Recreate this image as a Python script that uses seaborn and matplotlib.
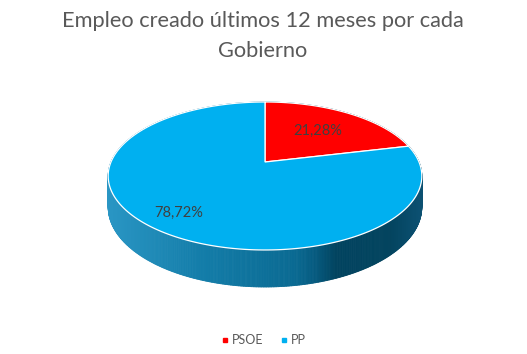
import numpy as np
import matplotlib
matplotlib.use("Agg")
import matplotlib.pyplot as plt
from matplotlib.collections import PolyCollection
from matplotlib.colors import LinearSegmentedColormap
from matplotlib.lines import Line2D
import seaborn as sns

# ---- data ----
categories = ["PSOE", "PP"]
values = [21.28, 78.72]
value_labels = ["21,28%", "78,72%"]
slice_colors = ["#FF0000", "#00B0F0"]
title_lines = ["Empleo creado últimos 12 meses por cada", "Gobierno"]

# ---- style ----
sns.set_theme(style="white")
plt.rcParams["font.family"] = ["Lato", "DejaVu Sans"]

W, H = 527, 354
fig = plt.figure(figsize=(W / 100, H / 100), dpi=100)
ax = fig.add_axes([0, 0, 1, 1])
ax.set_xlim(0, W)
ax.set_ylim(H, 0)
ax.axis("off")

# perspective geometry of the 3-D pie (pixel space)
CX, CY, R, A, K, DEPTH = 265.0, 162.0, 154.0, 71.35, 0.189, 30.0


def proj(u, v, z=0.0):
    den = 1.0 + K * v
    return CX + R * u / den, CY - A * v / den + DEPTH * z / den


# ---- side wall with horizontal gradient ----
side_cmap = LinearSegmentedColormap.from_list(
    "side",
    [(0.0, "#2a96c4"), (0.3, "#137da9"), (0.6, "#0a6a92"),
     (0.66, "#065b80"), (0.73, "#01435f"), (0.9, "#03445f"), (1.0, "#0c5172")],
)
th = np.linspace(0, 2 * np.pi, 721)
quads, cols = [], []
for a0, a1 in zip(th[:-1], th[1:]):
    p0 = proj(np.cos(a0), np.sin(a0))
    p1 = proj(np.cos(a1), np.sin(a1))
    q1 = proj(np.cos(a1), np.sin(a1), 1)
    q0 = proj(np.cos(a0), np.sin(a0), 1)
    quads.append([p0, p1, q1, q0])
    xm = (p0[0] + p1[0]) / 2
    cols.append(side_cmap(np.clip((xm - (CX - R * 1.02)) / (2 * R * 1.02), 0, 1)))
side = PolyCollection(quads, facecolors=cols, edgecolors=cols, linewidths=0.6)
ax.add_collection(side)

# ---- top surface wedges (start at 12 o'clock, clockwise) ----
total = sum(values)
start = 90.0
label_frac = [0.6, 0.8]
for val, col, lab, f in zip(values, slice_colors, value_labels, label_frac):
    sweep = 360.0 * val / total
    end = start - sweep
    angs = np.radians(np.linspace(start, end, 200))
    pts = [proj(0, 0)] + [proj(np.cos(t), np.sin(t)) for t in angs]
    ax.fill([p[0] for p in pts], [p[1] for p in pts], facecolor=col,
            edgecolor="white", linewidth=0.9, zorder=3)
    mid = np.radians((start + end) / 2)
    lx, ly = proj(f * np.cos(mid), f * np.sin(mid))
    ax.text(lx, ly, lab, ha="center", va="center", fontsize=10.5,
            color="#404040", zorder=5)
    start = end

# ---- title ----
ax.text(263, 27, title_lines[0], ha="center", va="baseline", fontsize=15.7,
        color="#595959")
ax.text(263, 57, title_lines[1], ha="center", va="baseline", fontsize=15.7,
        color="#595959")

# ---- legend ----
handles = [Line2D([], [], marker="s", linestyle="", markersize=3.2,
                  color=c) for c in slice_colors]
fig.legend(handles, categories, loc="center", ncol=2,
           bbox_to_anchor=(0.5, 1 - 340 / H), frameon=False, fontsize=9,
           handletextpad=0.3, columnspacing=1.4, handlelength=0.5,
           labelcolor="#595959")

fig.savefig("out.png", dpi=100)
